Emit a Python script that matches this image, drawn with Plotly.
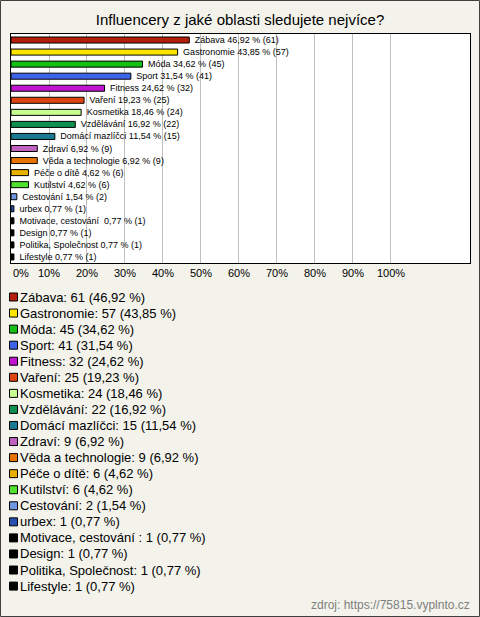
import plotly.graph_objects as go

categories = ["Zábava", "Gastronomie", "Móda", "Sport", "Fitness", "Vaření", "Kosmetika",
              "Vzdělávání", "Domácí mazlíčci", "Zdraví", "Věda a technologie", "Péče o dítě",
              "Kutilství", "Cestování", "urbex", "Motivace, cestování ", "Design",
              "Politika, Společnost", "Lifestyle"]
counts = [61, 57, 45, 41, 32, 25, 24, 22, 15, 9, 9, 6, 6, 2, 1, 1, 1, 1, 1]
percents = [46.92, 43.85, 34.62, 31.54, 24.62, 19.23, 18.46, 16.92, 11.54, 6.92, 6.92,
            4.62, 4.62, 1.54, 0.77, 0.77, 0.77, 0.77, 0.77]
tick_vals = list(range(0, 101, 10))
tick_labels = [f"{v}%" for v in tick_vals]
title_text = "Influencery z jaké oblasti sledujete nejvíce?"
source_text = "zdroj: https://75815.vyplnto.cz"

colors = ["#b41e0a", "#ffe400", "#14c014", "#3c64e8", "#c014d0", "#e04410", "#c8ff90",
          "#109050", "#1a7890", "#c060c0", "#e87400", "#e8b000", "#50e030", "#7098e0",
          "#2850b0", "#000000", "#000000", "#000000", "#000000"]


def cz(p):
    return f"{p:.2f}".replace(".", ",")


bar_text = [f"\u00a0{c} {cz(p)} % ({n})" for c, p, n in zip(categories, percents, counts)]
legend_text = [f"{c}: {n} ({cz(p)} %)" for c, p, n in zip(categories, percents, counts)]
# the first tick label sits left-aligned to the frame in the original; drawn separately
tick_text = [""] + tick_labels[1:]

W, H = 480, 617
L, R, T, B = 11, 10, 34, 354
PW, PH = W - L - R, H - T - B
FONT = "Arial, Liberation Sans, sans-serif"


def px2x(px):
    return (px - L) / PW


def py2y(py):
    return (H - B - py) / PH


fig = go.Figure()
fig.add_trace(go.Bar(
    y=categories, x=percents, orientation="h",
    marker=dict(color=colors, line=dict(color="#000000", width=1)),
    width=0.5,
    text=bar_text, textposition="outside", cliponaxis=False,
    textfont=dict(family=FONT, size=9, color="#000000"),
    constraintext="none",
    hoverinfo="skip",
))

shapes = []
annotations = []
for i, (txt, col) in enumerate(zip(legend_text, colors)):
    yc = 297 + i * 16.06
    shapes.append(dict(type="rect", xref="paper", yref="paper",
                       x0=px2x(9.5), x1=px2x(17.5), y0=py2y(yc - 4), y1=py2y(yc + 4),
                       fillcolor=col, line=dict(color="#000000", width=1)))
    annotations.append(dict(xref="paper", yref="paper", x=px2x(18), y=py2y(yc),
                            xanchor="left", yanchor="middle", showarrow=False, text=txt,
                            font=dict(family=FONT, size=13, color="#000000")))

annotations.append(dict(xref="x", yref="paper", x=tick_vals[0], y=py2y(273),
                        xanchor="left", yanchor="middle", showarrow=False, text=tick_labels[0],
                        font=dict(family=FONT, size=11, color="#000000")))

annotations.append(dict(xref="paper", yref="paper", x=px2x(472), y=py2y(605),
                        xanchor="right", yanchor="middle", showarrow=False, text=source_text,
                        font=dict(family=FONT, size=12, color="#808080")))

shapes.append(dict(type="rect", xref="paper", yref="paper",
                   x0=px2x(0.5), x1=px2x(479.5), y0=py2y(0.5), y1=py2y(616.5),
                   line=dict(color="#404040", width=1), fillcolor="rgba(0,0,0,0)"))

fig.update_layout(
    width=W, height=H,
    margin=dict(l=L, r=R, t=T, b=B, pad=0, autoexpand=False),
    paper_bgcolor="#f3f3ec", plot_bgcolor="#ffffff",
    showlegend=False,
    title=dict(text=title_text, x=0.5, xref="container", xanchor="center",
               y=1 - 20 / H, yref="container", yanchor="middle",
               font=dict(family=FONT, size=15, color="#000000")),
    xaxis=dict(range=[0, 120.8], tickvals=tick_vals, ticktext=tick_text,
               showgrid=True, gridcolor="#c0c0c0", gridwidth=1, zeroline=False,
               showline=True, mirror=True, linecolor="#000000", linewidth=1, ticks="",
               tickfont=dict(family=FONT, size=11, color="#000000"),
               automargin=False, fixedrange=True),
    yaxis=dict(autorange="reversed", showticklabels=False, showgrid=False, zeroline=False,
               showline=True, mirror=True, linecolor="#000000", linewidth=1, ticks="",
               automargin=False, fixedrange=True),
    shapes=shapes, annotations=annotations,
    bargap=0.5,
)

fig.write_html("out.html", config={"displayModeBar": False},
               post_script="document.body.style.margin='0';document.body.style.overflow='hidden';")
